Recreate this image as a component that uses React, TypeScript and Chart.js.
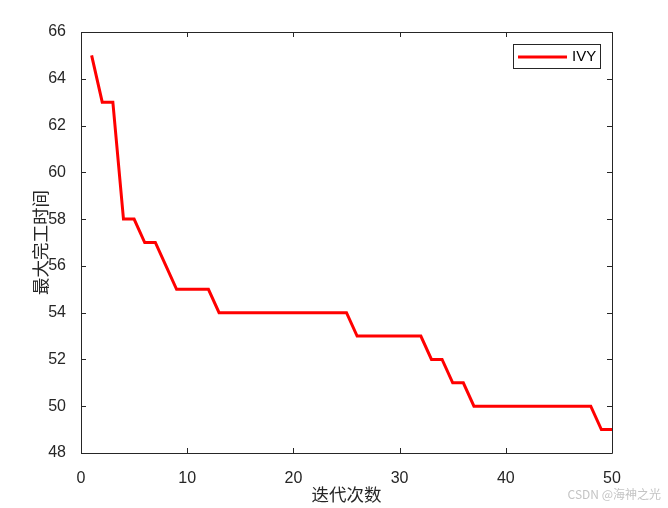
import React, { useEffect, useRef } from "react";
import { Chart, registerables } from "chart.js";

Chart.register(...registerables);

const iterations: number[] = Array.from({ length: 50 }, (_, i) => i + 1);
const makespan: number[] = [
  65, 63, 63, 58, 58, 57, 57, 56, 55, 55,
  55, 55, 54, 54, 54, 54, 54, 54, 54, 54,
  54, 54, 54, 54, 54, 53, 53, 53, 53, 53,
  53, 53, 52, 52, 51, 51, 50, 50, 50, 50,
  50, 50, 50, 50, 50, 50, 50, 50, 49, 49,
];
const seriesName = "IVY";
const xTitle = "迭代次数";
const yTitle = "最大完工时间";
const watermark = "CSDN @海神之光";
const xTicks = [0, 10, 20, 30, 40, 50];
const yTicks = [48, 50, 52, 54, 56, 58, 60, 62, 64, 66];

const AXIS = "#262626";
const TICK_FONT = "16px 'Liberation Sans', Arial, sans-serif";
const CJK_FONT = "17.5px 'Noto Sans CJK SC', sans-serif";

const boxPlugin = {
  id: "matlabBox",
  afterDraw(chart: any) {
    const { ctx, chartArea } = chart;
    const { left, right, top, bottom } = chartArea;
    const xs = chart.scales.x;
    const ys = chart.scales.y;
    ctx.save();
    ctx.strokeStyle = AXIS;
    ctx.lineWidth = 1;
    ctx.beginPath();
    ctx.rect(Math.round(left) + 0.5, Math.round(top) + 0.5, Math.round(right - left), Math.round(bottom - top));
    ctx.stroke();
    const tl = 5;
    ctx.beginPath();
    xTicks.forEach((v) => {
      const px = Math.round(xs.getPixelForValue(v)) + 0.5;
      ctx.moveTo(px, bottom);
      ctx.lineTo(px, bottom - tl);
      ctx.moveTo(px, top);
      ctx.lineTo(px, top + tl);
    });
    yTicks.forEach((v) => {
      const py = Math.round(ys.getPixelForValue(v)) + 0.5;
      ctx.moveTo(left, py);
      ctx.lineTo(left + tl, py);
      ctx.moveTo(right, py);
      ctx.lineTo(right - tl, py);
    });
    ctx.stroke();

    // axis titles
    ctx.fillStyle = AXIS;
    ctx.font = CJK_FONT;
    ctx.textAlign = "center";
    ctx.textBaseline = "middle";
    ctx.fillText(xTitle, (left + right) / 2, 494);
    ctx.save();
    ctx.translate(40, (top + bottom) / 2);
    ctx.rotate(-Math.PI / 2);
    ctx.fillText(yTitle, 0, 0);
    ctx.restore();

    // legend
    const lx = 513.5, ly = 44.5, lw = 87, lh = 24;
    ctx.fillStyle = "#ffffff";
    ctx.fillRect(lx, ly, lw, lh);
    ctx.strokeStyle = AXIS;
    ctx.lineWidth = 1;
    ctx.strokeRect(lx, ly, lw, lh);
    ctx.strokeStyle = "#ff0000";
    ctx.lineWidth = 3;
    ctx.beginPath();
    ctx.moveTo(518, 57);
    ctx.lineTo(567, 57);
    ctx.stroke();
    ctx.fillStyle = "#000000";
    ctx.font = "15px 'Liberation Sans', Arial, sans-serif";
    ctx.textAlign = "left";
    ctx.fillText(seriesName, 572, 57);

    // watermark
    ctx.fillStyle = "#c4c4c4";
    ctx.font = "12px 'Noto Sans CJK SC', sans-serif";
    ctx.textAlign = "right";
    ctx.fillText(watermark, 661, 494);
    ctx.restore();
  },
};

export default function App() {
  const ref = useRef<HTMLCanvasElement | null>(null);
  useEffect(() => {
    document.body.style.margin = "0";
    const canvas = ref.current;
    if (!canvas) return;
    const chart = new Chart(canvas, {
      type: "line",
      data: {
        datasets: [
          {
            label: seriesName,
            data: iterations.map((x, i) => ({ x, y: makespan[i] })),
            borderColor: "#ff0000",
            backgroundColor: "#ff0000",
            borderWidth: 3,
            pointRadius: 0,
            tension: 0,
            borderJoinStyle: "miter",
          },
        ],
      },
      options: {
        responsive: false,
        animation: false,
        devicePixelRatio: 1,
        layout: { padding: { top: 32, right: 56, left: 0, bottom: 0 } },
        plugins: { legend: { display: false }, tooltip: { enabled: false } },
        scales: {
          x: {
            type: "linear",
            min: 0,
            max: 50,
            afterFit: (s: any) => { s.height = 55; },
            afterBuildTicks: (s: any) => { s.ticks = xTicks.map((v) => ({ value: v })); },
            grid: { display: false },
            border: { display: false },
            ticks: { color: AXIS, font: { family: "'Liberation Sans', Arial, sans-serif", size: 16 }, padding: 8, maxRotation: 0 },
          },
          y: {
            min: 48,
            max: 66,
            afterFit: (s: any) => { s.width = 81; },
            afterBuildTicks: (s: any) => { s.ticks = yTicks.map((v) => ({ value: v })); },
            grid: { display: false },
            border: { display: false },
            ticks: { color: AXIS, font: { family: "'Liberation Sans', Arial, sans-serif", size: 16 }, padding: 7 },
          },
        },
      },
      plugins: [boxPlugin],
    } as any);
    return () => chart.destroy();
  }, []);
  return (
    <div style={{ position: "absolute", left: 0, top: 0, width: 668, height: 508, background: "#fff" }}>
      <canvas ref={ref} width={668} height={508} />
    </div>
  );
}
